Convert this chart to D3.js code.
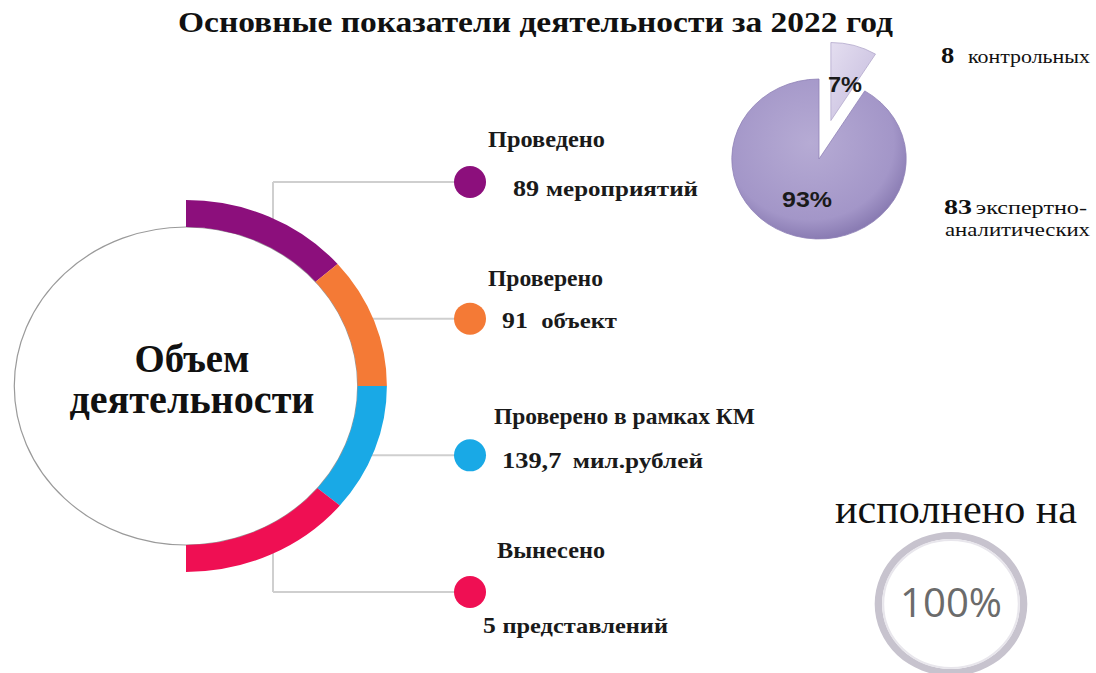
<!DOCTYPE html>
<html><head><meta charset="utf-8">
<script src="https://cdn.jsdelivr.net/npm/d3@7/dist/d3.min.js"></script>
<style>
html,body{margin:0;padding:0;background:#fff;}
svg{display:block;}
</style></head>
<body>
<svg id="c" width="1096" height="673"></svg>
<script>
// ---- data ----
const title = "Основные показатели деятельности за 2022 год";
const centerLines = ["Объем", "деятельности"];
const itemLabels = ["Проведено", "Проверено", "Проверено в рамках КМ", "Вынесено"];
const itemNumbers = ["89", "91", "139,7", "5"];
const itemUnits = ["мероприятий", "объект", "мил.рублей", "представлений"];
const itemColors = ["#8c0f7c", "#f47a36", "#19a9e6", "#ef0f53"];
const ringShares = [49, 41, 40, 50];           // angular share of each coloured arc segment
const pieCategories = ["контрольных", "экспертно-аналитических"];
const pieCounts = [8, 83];
const piePercents = ["7%", "93%"];
const doneLabel = "исполнено на";
const doneValue = 100;

// ---- layout ----
const svg = d3.select("#c");
const serif = "'Liberation Serif','Times New Roman',serif";
const sans = "'Liberation Sans',Arial,sans-serif";
const defs = svg.append("defs");
function fitW(sel, w) { return sel.attr("textLength", w).attr("lengthAdjust", "spacingAndGlyphs"); }

fitW(svg.append("text").attr("x", 178).attr("y", 32)
  .attr("font-family", serif).attr("font-weight", "bold").attr("font-size", 30)
  .attr("fill", "#111").text(title), 715);

// connectors
const cx0 = 186, cy0 = 386;
const yItem = d3.scaleLinear().domain([0, 3]).range([182, 592]);
const dotX = 470, bracketX = 273;
const g0 = svg.append("g");
g0.append("line").attr("x1", bracketX).attr("x2", bracketX)
  .attr("y1", yItem(0)).attr("y2", yItem(3))
  .attr("stroke", "#cfcfcf").attr("stroke-width", 2);
itemLabels.forEach((d, i) => {
  g0.append("line").attr("x1", bracketX).attr("x2", dotX).attr("y1", yItem(i)).attr("y2", yItem(i))
    .attr("stroke", "#cfcfcf").attr("stroke-width", 2);
});

// main ring
const ringG = svg.append("g").attr("transform", `translate(${cx0},${cy0}) scale(1.08,1)`);
ringG.append("circle").attr("r", 159).attr("fill", "#fff")
  .attr("stroke", "#9a9a9a").attr("stroke-width", 1.2).attr("vector-effect", "non-scaling-stroke");
const ringPie = d3.pie().sort(null).startAngle(0).endAngle(Math.PI);
const ringArc = d3.arc().innerRadius(159).outerRadius(186);
ringG.selectAll("path.seg").data(ringPie(ringShares)).join("path")
  .attr("class", "seg").attr("d", ringArc).attr("fill", (d, i) => itemColors[i]);

const centerW = [115, 245];
centerLines.forEach((t, i) => {
  fitW(svg.append("text").attr("x", 192 - centerW[i] / 2).attr("y", 372 + i * 41)
    .attr("font-family", serif).attr("font-weight", "bold").attr("font-size", 39)
    .attr("fill", "#111").text(t), centerW[i]);
});

// item dots and texts
const labelDx = [18, 18, 24, 27], labelDy = [-35, -33, -31, -34];
const labelW = [117, 115, 261, 108];
const valueDx = [43, 32, 32, 13], valueDy = [14, 9, 13, 41];
const valueW = [185, 115, 201, 185];
const unitGap = [6, 12, 10, 6];
itemLabels.forEach((lab, i) => {
  const y = yItem(i);
  svg.append("circle").attr("cx", dotX).attr("cy", y).attr("r", 16).attr("fill", itemColors[i]);
  fitW(svg.append("text").attr("x", dotX + labelDx[i]).attr("y", y + labelDy[i])
    .attr("font-family", serif).attr("font-weight", "bold").attr("font-size", 22.5)
    .attr("fill", "#1a1a1a").text(lab), labelW[i]);
  const t = svg.append("text").attr("x", dotX + valueDx[i]).attr("y", y + valueDy[i])
    .attr("font-family", serif).attr("font-weight", "bold").attr("fill", "#1a1a1a");
  t.append("tspan").attr("font-size", 23).text(itemNumbers[i]);
  t.append("tspan").attr("font-size", 22).attr("dx", unitGap[i]).text(itemUnits[i]);
  fitW(t, valueW[i]);
});

// pie (exploded)
const rg1 = defs.append("radialGradient").attr("id", "gBig").attr("cx", "45%").attr("cy", "40%").attr("r", "60%");
rg1.append("stop").attr("offset", "0%").attr("stop-color", "#b6abd4");
rg1.append("stop").attr("offset", "80%").attr("stop-color", "#a396c8");
rg1.append("stop").attr("offset", "100%").attr("stop-color", "#8a7cb3");
const rg2 = defs.append("linearGradient").attr("id", "gSmall").attr("x1", "0").attr("x2", "1").attr("y1", "0").attr("y2", "1");
rg2.append("stop").attr("offset", "0%").attr("stop-color", "#e4def0");
rg2.append("stop").attr("offset", "100%").attr("stop-color", "#c3b9dc");

const pieG = svg.append("g").attr("transform", "translate(819,159) scale(1.09,1)");
const pieArcs = d3.pie().sort(null).startAngle(0)(pieCounts);
const pieArc = d3.arc().innerRadius(0).outerRadius(80);
const explode = [40, 0];
pieG.selectAll("path").data(pieArcs).join("path")
  .attr("transform", (d, i) => {
    const a = (d.startAngle + d.endAngle) / 2;
    return `translate(${Math.sin(a) * explode[i]},${-Math.cos(a) * explode[i]})`;
  })
  .attr("d", (d, i) => pieArc.outerRadius(i === 0 ? 78 : 80)(d))
  .attr("fill", (d, i) => i === 0 ? "url(#gSmall)" : "url(#gBig)")
  .attr("stroke", (d, i) => i === 0 ? "#b3a8cc" : "#8f82b6").attr("stroke-width", 0.8)
  .attr("vector-effect", "non-scaling-stroke");

fitW(svg.append("text").attr("x", 828).attr("y", 92)
  .attr("font-family", sans).attr("font-weight", "bold").attr("font-size", 22).attr("fill", "#1a1a1a").text(piePercents[0]), 34);
fitW(svg.append("text").attr("x", 782).attr("y", 207)
  .attr("font-family", sans).attr("font-weight", "bold").attr("font-size", 22).attr("fill", "#1a1a1a").text(piePercents[1]), 50);

const p1 = svg.append("text").attr("x", 941).attr("y", 63).attr("font-family", serif).attr("fill", "#111");
p1.append("tspan").attr("font-weight", "bold").attr("font-size", 23).text(pieCounts[0]);
p1.append("tspan").attr("font-size", 19).attr("dx", 12).text(pieCategories[0]);
fitW(p1, 149);
const p2 = svg.append("text").attr("x", 944).attr("y", 214).attr("font-family", serif).attr("fill", "#111");
p2.append("tspan").attr("font-weight", "bold").attr("font-size", 22).text(pieCounts[1]);
p2.append("tspan").attr("font-size", 19).attr("dx", 3).text(pieCategories[1].split("-")[0] + "-");
fitW(p2, 143);
fitW(svg.append("text").attr("x", 945).attr("y", 236).attr("font-family", serif).attr("font-size", 19)
  .attr("fill", "#111").text(pieCategories[1].split("-")[1]), 145);

// completion ring
fitW(svg.append("text").attr("x", 835).attr("y", 523)
  .attr("font-family", serif).attr("font-size", 40).attr("fill", "#111").text(doneLabel), 242);
const doneG = svg.append("g").attr("transform", "translate(951,604) scale(1.06,1)");
const doneArc = d3.arc().innerRadius(65).outerRadius(72).startAngle(0);
doneG.append("path").attr("d", doneArc.endAngle(2 * Math.PI * doneValue / 100)()).attr("fill", "#c7c3ce");
doneG.append("circle").attr("r", 64).attr("fill", "none").attr("stroke", "#e8e6ec").attr("stroke-width", 2);
fitW(svg.append("text").attr("x", 900).attr("y", 617)
  .attr("font-family", "'Open Sans',sans-serif").attr("font-size", 40).attr("fill", "#6b6b6b")
  .text(doneValue + "%"), 102);
</script>
</body></html>
